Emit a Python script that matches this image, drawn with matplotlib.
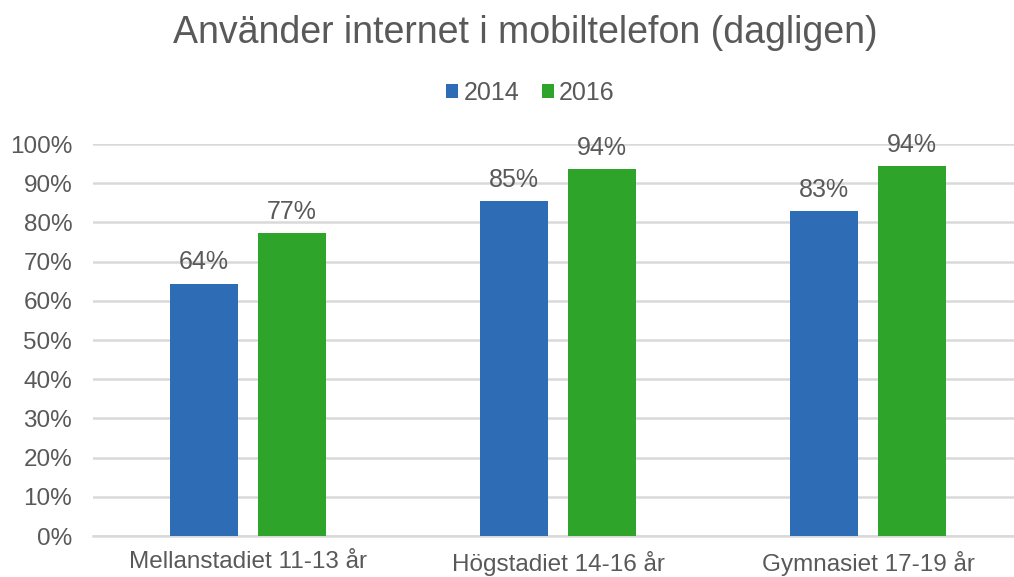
import numpy as np
import matplotlib.pyplot as plt

plt.rcParams['font.family'] = ['Liberation Sans', 'DejaVu Sans']

# --- data ---
categories = ["Mellanstadiet 11-13 år", "Högstadiet 14-16 år", "Gymnasiet 17-19 år"]
years = ["2014", "2016"]
values_2014 = [64.4, 85.4, 82.8]
values_2016 = [77.2, 93.6, 94.3]
labels_2014 = ["64%", "85%", "83%"]
labels_2016 = ["77%", "94%", "94%"]

text_color = "#595959"
colors = ["#2E6DB5", "#2EA52A"]

fig = plt.figure(figsize=(10.14, 5.77), dpi=100)
ax = fig.add_axes([0.0917, 0.071, 0.9083, 0.6794])

x = np.arange(len(categories))
width = 0.22
offset = 0.142

b1 = ax.bar(x - offset, values_2014, width, color=colors[0], label=years[0], zorder=3)
b2 = ax.bar(x + offset, values_2016, width, color=colors[1], label=years[1], zorder=3)

for bars, labs in [(b1, labels_2014), (b2, labels_2016)]:
    for bar, lab in zip(bars, labs):
        ax.text(bar.get_x() + bar.get_width() / 2, bar.get_height() + 2.4, lab,
                ha="center", va="bottom", fontsize=18, color=text_color, zorder=4)

ax.set_ylim(0, 100)
ax.set_xlim(-0.5, 2.47)
ax.set_yticks(np.arange(0, 101, 10))
ax.set_yticklabels([f"{v}%" for v in range(0, 101, 10)])
ax.set_xticks(x)
ax.set_xticklabels(categories)
ax.tick_params(axis="both", length=0, labelsize=17.5, labelcolor=text_color)
ax.tick_params(axis="y", pad=15)
ax.tick_params(axis="x", pad=11)

ax.grid(axis="y", color="#d9d9d9", linewidth=1.8, zorder=0)
ax.set_axisbelow(True)
for s in ["top", "right", "left"]:
    ax.spines[s].set_visible(False)
ax.spines["bottom"].set_color("#d9d9d9")
ax.spines["bottom"].set_linewidth(1.8)

fig.text(0.518, 0.943, "Använder internet i mobiltelefon (dagligen)", ha="center", va="center",
         fontsize=27, color=text_color)

fig.legend(handles=[b1, b2], labels=years, loc="center", bbox_to_anchor=(0.523, 0.839),
           ncol=2, frameon=False, fontsize=18, labelcolor=text_color,
           handlelength=0.5, handleheight=0.5, handletextpad=0.2, columnspacing=0.9)

plt.savefig("out.png", dpi=100)
